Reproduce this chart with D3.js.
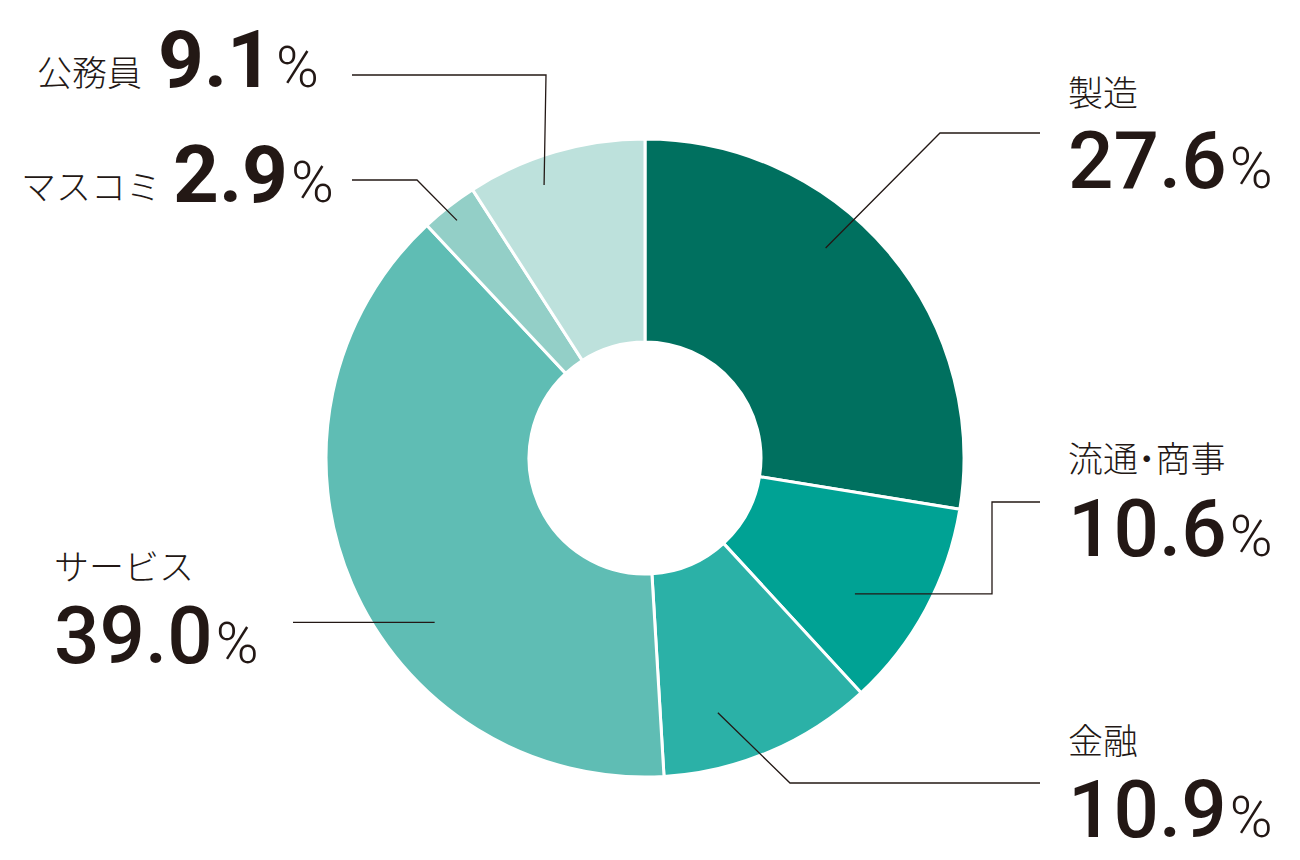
<!DOCTYPE html>
<html><head><meta charset="utf-8">
<script src="https://cdn.jsdelivr.net/npm/d3@7"></script>
<style>html,body{margin:0;padding:0;background:#fff;}svg{display:block;}</style>
</head><body>
<script>
// ---- data ----
const categories = ["製造", "流通・商事", "金融", "サービス", "マスコミ", "公務員"];
const values = [27.6, 10.6, 10.9, 39.0, 2.9, 9.1];
const colors = ["#00705f", "#00a294", "#2bb1a7", "#5fbdb4", "#93cfc7", "#bde1dc"];

// ---- layout (annotation placement) ----
const W = 1300, H = 860, cx = 645, cy = 458, rOuter = 319, rInner = 116;
const labelLayout = [
  {frac:0.41, r:277, pts:[[940,133],[1040,133]], stacked:true, x:1068, ly:106, vy:188, vw:500},
  {frac:0.62, r:250, pts:[[992,null],[992,502],[1040,502]], stacked:true, x:1068, ly:472, vy:556, vw:500},
  {frac:0.68, r:265, pts:[[790,783],[1040,783]], stacked:true, x:1068, ly:754, vy:837, vw:500},
  {frac:0.395, r:267, pts:[[293,null]], stacked:true, x:54, ly:580, vy:663, vw:500},
  {frac:0.46, r:303, pts:[[417,180],[352,180]], stacked:false, x:21, ly:200, vy:202, vw:700, gap:12},
  {frac:0.38, r:291, pts:[[546,75],[352,75]], stacked:false, x:37, ly:86, vy:87, vw:700, gap:16}
];

const svg = d3.select("body").append("svg").attr("width", W).attr("height", H);
const g = svg.append("g").attr("transform", `translate(${cx},${cy})`);

const data = categories.map((c, i) => ({cat: c, value: values[i], color: colors[i]}));
const pie = d3.pie().sort(null).value(d => d.value);
const arcs = pie(data);
const arc = d3.arc().innerRadius(rInner).outerRadius(rOuter);

g.selectAll("path.slice").data(arcs).join("path")
  .attr("class", "slice")
  .attr("d", arc)
  .attr("fill", d => d.data.color)
  .attr("stroke", "#fff")
  .attr("stroke-width", 3)
  .attr("stroke-linejoin", "miter");

const ink = "#231815";
const valueFmt = d3.format(".1f");

arcs.forEach((a, i) => {
  const L = labelLayout[i];
  const ang = a.startAngle + L.frac * (a.endAngle - a.startAngle);
  const ax = cx + L.r * Math.sin(ang), ay = cy - L.r * Math.cos(ang);
  const pts = [[ax, ay]].concat(L.pts.map(p => [p[0], p[1] == null ? ay : p[1]]));
  svg.append("path")
    .attr("d", d3.line()(pts))
    .attr("fill", "none").attr("stroke", ink).attr("stroke-width", 1.3);

  const lab = svg.append("text")
    .attr("x", L.x).attr("y", L.ly)
    .attr("font-family", "'Noto Sans CJK JP', sans-serif")
    .attr("font-size", 35).attr("font-weight", 300)
    .style("font-feature-settings", "'halt'")
    .attr("fill", ink)
    .text(a.data.cat);

  let vx = L.x;
  if (!L.stacked) {
    const bb = lab.node().getBBox();
    vx = bb.x + bb.width + L.gap;
  }
  const t = svg.append("text")
    .attr("x", vx).attr("y", L.vy)
    .attr("font-family", "Roboto, sans-serif")
    .attr("fill", ink);
  t.append("tspan").attr("font-size", 80).attr("font-weight", L.vw)
    .text(valueFmt(a.data.value));
  t.append("tspan").attr("font-size", 58).attr("font-weight", 300)
    .attr("dx", 3)
    .text("%");
});
</script>
</body></html>
